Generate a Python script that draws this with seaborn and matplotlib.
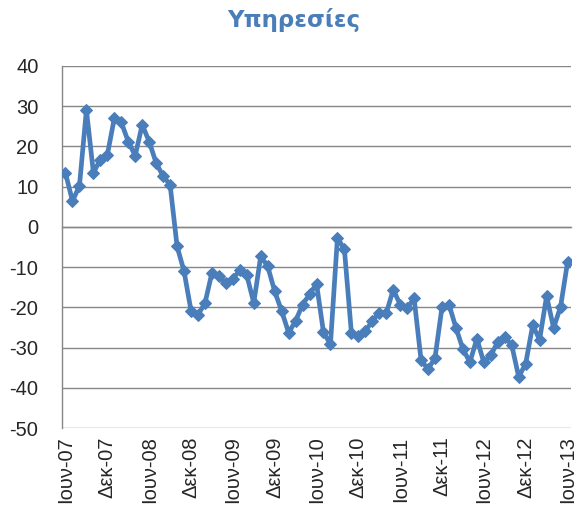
import numpy as np
import pandas as pd
import matplotlib.pyplot as plt
import seaborn as sns

# monthly index, Jun 2007 .. Jun 2013
services = [13.4, 6.4, 10.2, 29.1, 13.5, 16.7, 17.9, 27.0, 26.0, 21.2, 17.7, 25.4,
            21.2, 15.9, 12.6, 10.5, -4.8, -11.0, -20.8, -21.8, -19.0, -11.4, -12.3, -13.9,
            -12.9, -10.8, -12.0, -18.9, -7.3, -9.8, -16.0, -20.9, -26.3, -23.4, -19.3, -16.8,
            -14.1, -26.2, -29.2, -2.7, -5.6, -26.3, -27.0, -25.9, -23.4, -21.3, -21.5, -15.6,
            -19.3, -20.1, -17.8, -33.2, -35.4, -32.5, -19.9, -19.3, -25.1, -30.4, -33.6, -27.8,
            -33.7, -31.9, -28.6, -27.4, -29.4, -37.3, -34.0, -24.5, -28.0, -17.2, -25.1, -19.9,
            -8.8]
tick_labels = ['Ιουν-07', 'Δεκ-07', 'Ιουν-08', 'Δεκ-08', 'Ιουν-09', 'Δεκ-09', 'Ιουν-10',
               'Δεκ-10', 'Ιουν-11', 'Δεκ-11', 'Ιουν-12', 'Δεκ-12', 'Ιουν-13']
y_ticks = [40, 30, 20, 10, 0, -10, -20, -30, -40, -50]

df = pd.DataFrame({'month': np.arange(len(services)), 'value': services})

sns.set_style('white')
plt.rcParams['font.family'] = ['Liberation Sans', 'DejaVu Sans']
plt.rcParams['axes.unicode_minus'] = False

line_col = '#4A7EBB'
grid_col = '#868686'

fig = plt.figure(figsize=(5.79, 5.18), dpi=100)
ax = fig.add_axes([0.1071, 0.1737, 0.8791, 0.6989])

sns.lineplot(data=df, x='month', y='value', ax=ax, color=line_col, linewidth=3.4,
             marker='D', markersize=6, markeredgecolor=line_col, zorder=3)

ax.set_xlim(-0.5, len(services) - 0.5)
ax.set_ylim(-50, 40)
ax.set_yticks(y_ticks)
ax.tick_params(axis='y', labelsize=14.5, length=6, width=1, color=grid_col, direction='out', pad=11)
ax.yaxis.grid(True, color=grid_col, linewidth=1)
ax.set_axisbelow(True)
ax.set_xlabel('')
ax.set_ylabel('')

for side in ['top', 'right']:
    ax.spines[side].set_visible(False)
ax.spines['left'].set_color(grid_col)
ax.spines['left'].set_linewidth(1)

# category axis crosses at zero, tick marks between months
ax.spines['bottom'].set_position(('data', 0))
ax.spines['bottom'].set_color(grid_col)
ax.spines['bottom'].set_linewidth(1)
ax.set_xticks(np.arange(0, len(services), 6) - 0.5)
ax.tick_params(axis='x', length=6, width=1, color=grid_col, direction='out', labelbottom=False)

# labels at the bottom of the plot area
sec = ax.secondary_xaxis('bottom')
sec.set_xticks(np.arange(0, len(services), 6), tick_labels)
sec.tick_params(axis='x', length=0, pad=6, labelsize=14.5, labelrotation=90)
sec.spines['bottom'].set_visible(False)

fig.suptitle('Υπηρεσίες', x=0.508, y=0.985, fontsize=16.5, fontweight='bold',
             color=line_col, family=['DejaVu Sans'])

fig.savefig('out.png', dpi=100)
